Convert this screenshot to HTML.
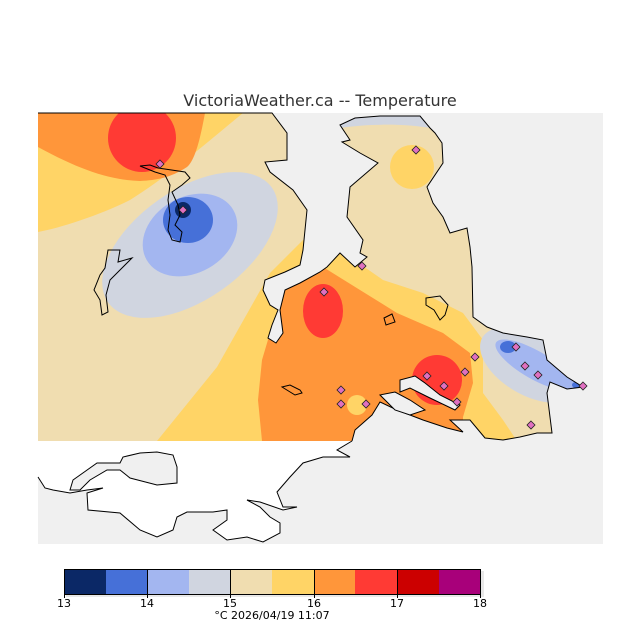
<!DOCTYPE html>
<html><head><meta charset="utf-8"><style>
body{margin:0;background:#fff;}
svg{display:block;font-family:"DejaVu Sans","Liberation Sans",sans-serif;}
</style></head><body>
<svg width="640" height="640" viewBox="0 0 640 640" xmlns="http://www.w3.org/2000/svg">
<defs>
<clipPath id="land">
<path d="M38,113 L272,113 L287,133 L287,160 L265,162 L270,172 L293,190 L307,210 L303,250 L300,265 L285,272 L265,280 L263,290 L270,305 L278,310 L272,325 L268,338 L276,343 L283,333 L280,310 L285,290 L300,283 L320,272 L327,267 L340,253 L355,267 L367,257 L360,253 L363,240 L347,217 L350,187 L378,163 L360,153 L342,142 L350,140 L340,125 L355,118 L380,116 L420,116 L430,128 L435,133 L442,143 L443,163 L427,187 L433,203 L443,217 L450,233 L467,228 L470,247 L472,267 L473,317 L487,327 L503,333 L527,337 L543,340 L547,360 L567,377 L583,387 L567,389 L550,382 L547,393 L550,417 L552,433 L537,433 L520,437 L503,440 L485,438 L470,420 L450,420 L463,432 L447,428 L423,420 L397,410 L380,402 L372,415 L355,430 L352,441 L38,441 Z"/>
</clipPath>
</defs>
<text x="320" y="106" text-anchor="middle" font-size="16" fill="#333">VictoriaWeather.ca -- Temperature</text>
<rect x="38" y="113" width="565" height="431" fill="#f0f0f0"/>
<g clip-path="url(#land)">
<rect x="38" y="113" width="565" height="340" fill="#f0ddb0"/>
<!-- top-left yellow / orange -->
<path d="M38,113 L243,113 C210,140 170,175 130,200 C100,215 60,228 38,232 Z" fill="#ffd466"/>
<path d="M38,113 L205,113 C200,140 195,160 187,167 C170,178 157,180 140,181 C110,180 80,170 38,147 Z" fill="#ff963a"/>
<ellipse cx="142" cy="138" rx="34" ry="34" fill="#ff3a34"/>
<!-- cold ellipses -->
<ellipse cx="190" cy="245" rx="100" ry="55" transform="rotate(-35 190 245)" fill="#d0d5e0"/>
<ellipse cx="190" cy="235" rx="50" ry="38" transform="rotate(-30 190 235)" fill="#a3b6f0"/>
<ellipse cx="188" cy="220" rx="25" ry="23" fill="#4670d8"/>
<circle cx="183" cy="210" r="8" fill="#0b2866"/>
<!-- bottom yellow -->
<path d="M157,441 L217,367 L270,273 L303,240 L330,245 L350,257 L383,280 L423,293 L463,313 L483,340 L483,393 L503,420 L517,441 Z" fill="#ffd466"/>
<path d="M262,441 L258,400 L262,360 L270,333 L285,290 L323,267 L360,290 L397,313 L443,333 L470,353 L473,383 L463,417 L463,441 Z" fill="#ff963a"/>
<ellipse cx="323" cy="311" rx="20" ry="27" fill="#ff3a34"/>
<circle cx="437" cy="380" r="25" fill="#ff3a34"/>
<circle cx="412" cy="167" r="22" fill="#ffd466"/>
<path d="M340,113 L440,113 L440,130 C420,125 380,122 340,128 Z" fill="#d0d5e0"/>
<circle cx="357" cy="405" r="10" fill="#ffd466"/>
<!-- east cold -->
<ellipse cx="530" cy="365" rx="55" ry="30" transform="rotate(30 530 365)" fill="#d0d5e0"/>
<ellipse cx="535" cy="365" rx="45" ry="14" transform="rotate(30 535 365)" fill="#a3b6f0"/>
<ellipse cx="508" cy="347" rx="8" ry="6" fill="#4670d8"/>
<ellipse cx="580" cy="385" rx="8" ry="4" fill="#4670d8"/>
</g>
<path d="M38,113 L272,113 L287,133 L287,160 L265,162 L270,172 L293,190 L307,210 L303,250 L300,265 L285,272 L265,280 L263,290 L270,305 L278,310 L272,325 L268,338 L276,343 L283,333 L280,310 L285,290 L300,283 L320,272 L327,267 L340,253 L355,267 L367,257 L360,253 L363,240 L347,217 L350,187 L378,163 L360,153 L342,142 L350,140 L340,125 L355,118 L380,116 L420,116 L430,128 L435,133 L442,143 L443,163 L427,187 L433,203 L443,217 L450,233 L467,228 L470,247 L472,267 L473,317 L487,327 L503,333 L527,337 L543,340 L547,360 L567,377 L583,387 L567,389 L550,382 L547,393 L550,417 L552,433 L537,433 L520,437 L503,440 L485,438 L470,420 L450,420 L463,432 L447,428 L423,420 L397,410 L380,402 L372,415 L355,430 L352,441" fill="none" stroke="#000" stroke-width="1"/>
<!-- grey bays -->
<path d="M400,380 L415,376 L425,383 L440,395 L460,405 L455,410 L430,398 L410,388 L400,392 Z" fill="#f0f0f0" stroke="#000"/>
<path d="M380,395 L395,392 L410,400 L425,410 L410,415 L395,410 Z" fill="#f0f0f0" stroke="#000"/>
<!-- small islands outline -->
<path d="M158,168 L150,165 L140,166 L155,172 L165,175 L170,185 L168,200 L170,215 L168,230 L172,240 L180,242 L182,232 L175,225 L180,215 L178,205 L172,192 L182,185 L190,178 L185,172 Z" fill="none" stroke="#000"/>
<path d="M108,250 L120,250 L118,262 L132,258 L120,270 L110,280 L106,295 L108,312 L102,315 L100,300 L94,290 L100,275 L105,268 Z" fill="none" stroke="#000"/>
<path d="M282,387 L290,385 L300,390 L302,393 L295,395 Z" fill="none" stroke="#000"/>
<path d="M426,298 L440,296 L448,305 L445,315 L440,320 L434,310 L426,305 Z" fill="none" stroke="#000"/>
<path d="M384,318 L392,314 L395,322 L386,325 Z" fill="none" stroke="#000"/>
<!-- bottom white land -->
<path d="M38,441 L352,441 L337,450 L350,457 L323,457 L303,463 L290,477 L277,492 L283,507 L297,507 L283,510 L260,502 L247,500 L260,507 L270,517 L280,523 L280,533 L263,542 L247,537 L227,540 L213,530 L227,520 L227,510 L213,512 L187,512 L177,517 L173,530 L157,537 L140,530 L120,513 L88,510 L87,493 L103,488 L87,490 L70,493 L53,490 L45,488 L38,477 Z" fill="#fff"/>
<path d="M352,441 L337,450 L350,457 L323,457 L303,463 L290,477 L277,492 L283,507 L297,507 L283,510 L260,502 L247,500 L260,507 L270,517 L280,523 L280,533 L263,542 L247,537 L227,540 L213,530 L227,520 L227,510 L213,512 L187,512 L177,517 L173,530 L157,537 L140,530 L120,513 L88,510 L87,493 L103,488 L87,490 L70,493 L53,490 L45,488 L38,477" fill="none" stroke="#000"/>
<path d="M73,480 L97,463 L120,463 L123,457 L140,453 L157,452 L173,455 L177,467 L177,483 L157,485 L130,478 L120,470 L107,470 L90,480 L80,490 L70,490 Z" fill="#f0f0f0" stroke="#000"/>
<!-- stations -->
<g fill="#e070c0" stroke="#222" stroke-width="0.8">
<path d="M160,160 l4,4 l-4,4 l-4,-4 Z"/><path d="M183,206 l4,4 l-4,4 l-4,-4 Z"/><path d="M416,146 l4,4 l-4,4 l-4,-4 Z"/><path d="M362,262 l4,4 l-4,4 l-4,-4 Z"/><path d="M324,288 l4,4 l-4,4 l-4,-4 Z"/><path d="M341,386 l4,4 l-4,4 l-4,-4 Z"/><path d="M341,400 l4,4 l-4,4 l-4,-4 Z"/><path d="M366,400 l4,4 l-4,4 l-4,-4 Z"/><path d="M427,372 l4,4 l-4,4 l-4,-4 Z"/><path d="M444,382 l4,4 l-4,4 l-4,-4 Z"/><path d="M465,368 l4,4 l-4,4 l-4,-4 Z"/><path d="M475,353 l4,4 l-4,4 l-4,-4 Z"/><path d="M457,398 l4,4 l-4,4 l-4,-4 Z"/><path d="M516,343 l4,4 l-4,4 l-4,-4 Z"/><path d="M525,362 l4,4 l-4,4 l-4,-4 Z"/><path d="M538,371 l4,4 l-4,4 l-4,-4 Z"/><path d="M583,382 l4,4 l-4,4 l-4,-4 Z"/><path d="M531,421 l4,4 l-4,4 l-4,-4 Z"/>
</g>
<!-- colorbar -->
<rect x="66" y="571" width="418" height="26" fill="#e8e8e8"/>
<rect x="64" y="569" width="42" height="25" fill="#0b2866"/>
<rect x="106" y="569" width="41" height="25" fill="#4670d8"/>
<rect x="147" y="569" width="42" height="25" fill="#a3b6f0"/>
<rect x="189" y="569" width="41" height="25" fill="#d0d5e0"/>
<rect x="230" y="569" width="42" height="25" fill="#f0ddb0"/>
<rect x="272" y="569" width="42" height="25" fill="#ffd466"/>
<rect x="314" y="569" width="41" height="25" fill="#ff963a"/>
<rect x="355" y="569" width="42" height="25" fill="#ff3a34"/>
<rect x="397" y="569" width="42" height="25" fill="#cc0000"/>
<rect x="439" y="569" width="42" height="25" fill="#a8007a"/>
<rect x="64.5" y="569.5" width="416" height="25" fill="none" stroke="#000"/>
<g stroke="#000"><line x1="64.5" y1="569" x2="64.5" y2="598"/><line x1="147.5" y1="569" x2="147.5" y2="598"/><line x1="230.5" y1="569" x2="230.5" y2="598"/><line x1="314.5" y1="569" x2="314.5" y2="598"/><line x1="397.5" y1="569" x2="397.5" y2="598"/><line x1="480.5" y1="569" x2="480.5" y2="598"/></g>
<g font-size="11" text-anchor="middle" fill="#000">
<text x="64" y="607">13</text><text x="147" y="607">14</text><text x="230" y="607">15</text><text x="314" y="607">16</text><text x="397" y="607">17</text><text x="480" y="607">18</text>
<text x="272" y="619">°C  2026/04/19 11:07</text>
</g>
</svg>
</body></html>
